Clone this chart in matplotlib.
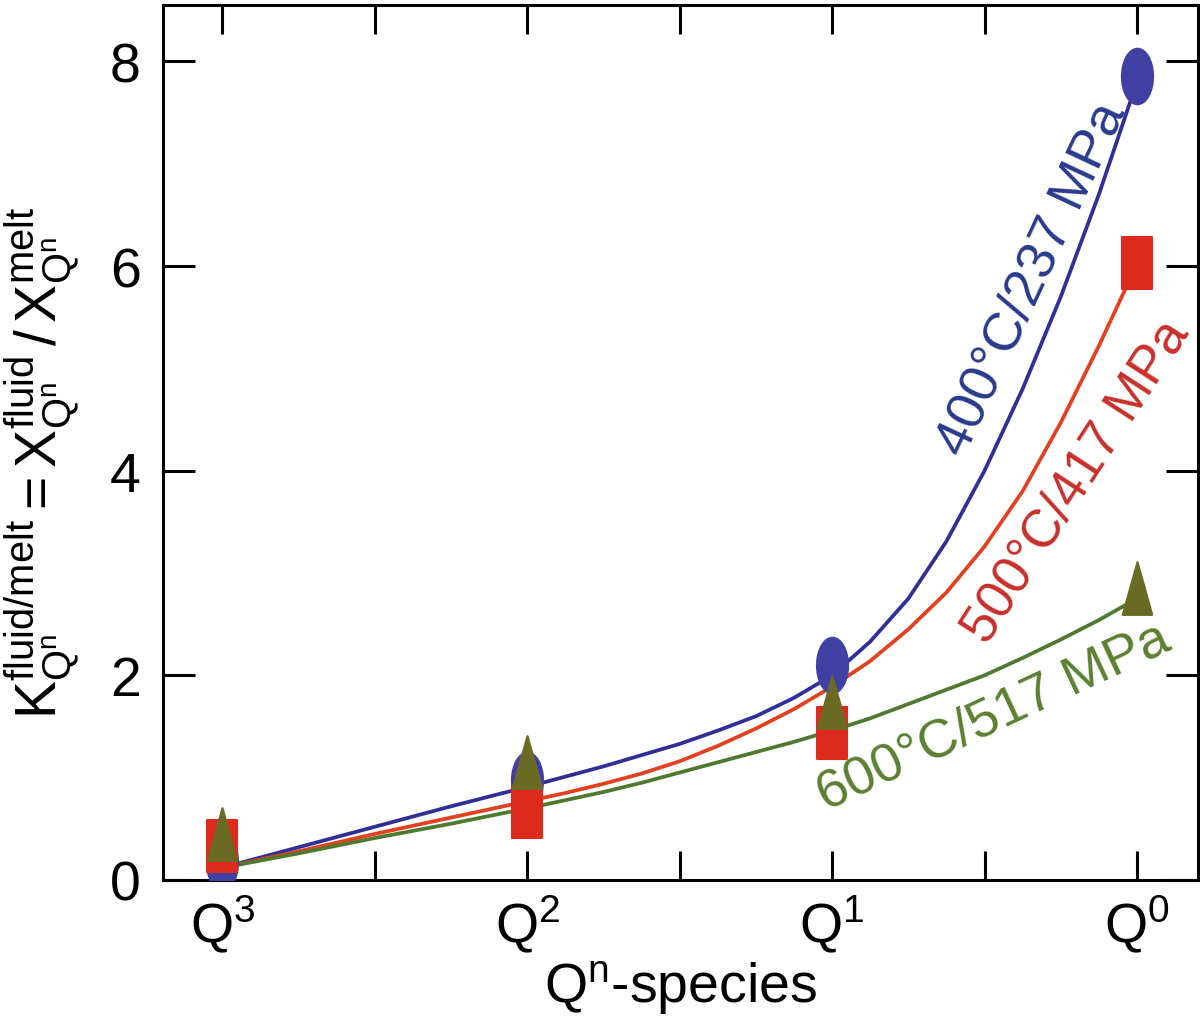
import numpy as np
import matplotlib
matplotlib.use("Agg")
import matplotlib.pyplot as plt
from matplotlib.path import Path

plt.rcParams['font.family'] = ['Liberation Sans', 'DejaVu Sans']
plt.rcParams['mathtext.fontset'] = 'custom'
plt.rcParams['mathtext.rm'] = 'Liberation Sans'
plt.rcParams['mathtext.it'] = 'Liberation Sans:italic'
plt.rcParams['mathtext.bf'] = 'Liberation Sans:bold'

# Q^n species, from Q3 (left) to Q0 (right)
species = [r'$\mathrm{Q}^{3}$', r'$\mathrm{Q}^{2}$', r'$\mathrm{Q}^{1}$', r'$\mathrm{Q}^{0}$']

# measured partition coefficients
k_400 = [0.18, 0.98, 2.10, 7.86]
k_500 = [0.33, 0.66, 1.44, 6.03]
k_600 = [0.45, 1.15, 1.74, 2.85]

# fitted curves
fit_pos = [0, 0.25, 0.5, 0.75, 1.0, 1.125, 1.25, 1.375, 1.5, 1.625, 1.75, 1.875,
           2.0, 2.125, 2.25, 2.375, 2.5, 2.625, 2.75, 2.875, 3.0]
fit_400 = [0.12, 0.32, 0.52, 0.72, 0.91, 1.01, 1.11, 1.22, 1.33, 1.46, 1.60, 1.78,
           2.00, 2.33, 2.75, 3.31, 4.00, 4.80, 5.70, 6.70, 7.80]
fit_500 = [0.12, 0.28, 0.45, 0.61, 0.77, 0.85, 0.94, 1.04, 1.16, 1.31, 1.48, 1.67,
           1.89, 2.14, 2.45, 2.81, 3.26, 3.80, 4.47, 5.22, 6.02]
fit_600 = [0.12, 0.26, 0.41, 0.55, 0.70, 0.78, 0.86, 0.95, 1.05, 1.15, 1.25, 1.35,
           1.46, 1.58, 1.72, 1.86, 2.00, 2.17, 2.35, 2.54, 2.75]

labels = ['400°C/237 MPa', '500°C/417 MPa', '600°C/517 MPa']


def shape_marker(kind):
    # tall markers: ellipse, rectangle, triangle (width/height ~ 0.56)
    w = 0.28
    if kind == 'ellipse':
        circ = Path.unit_circle()
        return Path(circ.vertices * [w, 0.5], circ.codes)
    if kind == 'rect':
        return Path([(-w, -0.5), (w, -0.5), (w, 0.5), (-w, 0.5), (-w, -0.5)], closed=True)
    return Path([(-w, -0.5), (w, -0.5), (0, 0.5), (-w, -0.5)], closed=True)


fig = plt.figure(figsize=(12, 10.2), dpi=100)
ax = fig.add_axes([0.1358, 0.1363, 0.8625, 0.8577])

series = [
    (fit_400, k_400, '#2f2f98', '#4141a3', '#283a8c', 'ellipse', 40),
    (fit_500, k_500, '#e2401e', '#dc2a1c', '#c8302a', 'rect', 38),
    (fit_600, k_600, '#4e7a30', '#6b6a24', '#5b8030', 'tri', 38),
]

xs = np.arange(len(species))
for fit, pts, lc, mc, tc, kind, ms in series:
    ax.plot(fit_pos, fit, color=lc, lw=2.7, zorder=2, solid_capstyle='round',
            solid_joinstyle='round')
for i, (fit, pts, lc, mc, tc, kind, ms) in enumerate(series):
    ax.plot(xs, pts, ls='none', marker=shape_marker(kind), markersize=ms,
            color=mc, markeredgecolor=mc, markeredgewidth=1.5, zorder=3 + i)

# curve labels
ax.text(2.655, 5.88, labels[0], color='#283a8c', fontsize=39, rotation=65,
        ha='center', va='center', rotation_mode='anchor')
ax.text(2.80, 3.90, labels[1], color='#c8302a', fontsize=38, rotation=57,
        ha='center', va='center', rotation_mode='anchor')
ax.text(2.53, 1.60, labels[2], color='#5b8030', fontsize=39, rotation=25,
        ha='center', va='center', rotation_mode='anchor')

ax.set_xlim(-0.195, 3.2)
ax.set_ylim(0, 8.55)
ax.set_xticks(np.arange(0, 3.01, 0.5))
ax.set_xticklabels([species[0], '', species[1], '', species[2], '', species[3]])
ax.set_yticks([0, 2, 4, 6, 8])

ax.tick_params(axis='both', direction='in', top=True, right=True, width=2.2, labelsize=40)
ax.tick_params(axis='x', length=21, pad=9)
ax.tick_params(axis='y', length=23, pad=16)
for sp in ax.spines.values():
    sp.set_linewidth(2.2)

ax.set_xlabel(r'$\mathrm{Q}^{\mathrm{n}}$-species', fontsize=40, labelpad=3)
ax.set_ylabel(r'$\mathrm{K}^{\mathrm{fluid/melt}}_{\mathrm{Q}^{\mathrm{n}}} = '
              r'\mathrm{X}^{\mathrm{fluid}}_{\mathrm{Q}^{\mathrm{n}}}\,/\,'
              r'\mathrm{X}^{\mathrm{melt}}_{\mathrm{Q}^{\mathrm{n}}}$',
              fontsize=41)
ax.yaxis.set_label_coords(-0.078, 0.478)

fig.savefig('out.png', dpi=100)
